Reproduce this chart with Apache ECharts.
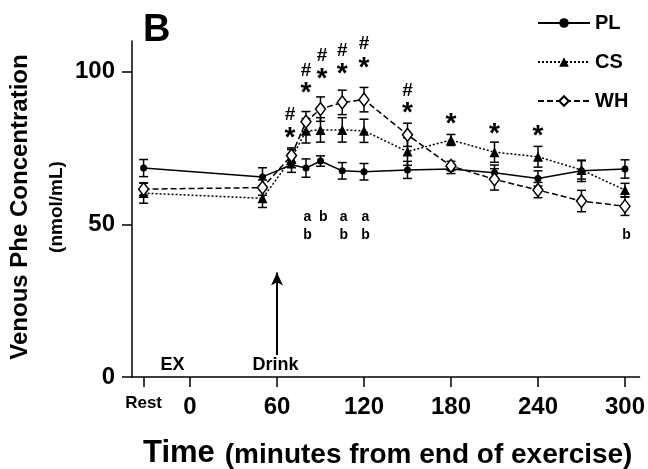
<!DOCTYPE html>
<html><head><meta charset="utf-8">
<script src="https://cdn.jsdelivr.net/npm/echarts@6/dist/echarts.min.js"></script>
<style>html,body{margin:0;padding:0;background:#fff}#c{width:648px;height:469px}</style>
</head><body><div id="c"></div>
<script>
// ---- data ----
const times  = [-32, 50, 70, 80, 90, 105, 120, 150, 180, 210, 240, 270, 300];
const plMean = [68.4, 65.5, 69.5, 68.4, 70.7, 67.5, 67.2, 67.8, 68.1, 66.9, 65.0, 67.5, 68.1];
const plErr  = [2.8, 3.0, 2.5, 3.0, 1.7, 2.7, 2.7, 2.8, 1.5, 2.5, 2.5, 3.5, 3.0];
const csMean = [60.2, 58.5, 71.5, 80.6, 80.9, 80.9, 80.6, 73.8, 77.6, 73.6, 72.1, 67.8, 61.2];
const csErr  = [3.3, 3.0, 3.0, 4.0, 4.0, 4.0, 3.8, 4.5, 1.8, 3.3, 3.4, 3.0, 2.2];
const whMean = [61.5, 62.0, 72.5, 83.6, 87.7, 89.9, 90.8, 79.3, 69.1, 64.7, 61.2, 57.6, 55.9];
const whErr  = [2.0, 2.5, 2.5, 3.3, 4.0, 4.0, 4.0, 3.8, 1.5, 3.5, 2.5, 3.5, 3.0];

const xTickValues = [-32, 0, 60, 120, 180, 240, 300];
const yTickValues = [0, 50, 100];

const hashTimes  = [69, 80, 91, 105, 120, 150];
const hashLevels = [86.0, 100.2, 105.1, 106.7, 109.0, 93.6];
const starTimes  = [69, 80, 91, 105, 120, 150, 180, 210, 240];
const starLevels = [80.5, 95.2, 99.8, 101.5, 103.4, 88.7, 85.0, 81.8, 81.1];
const upperLetters = [[81, 'a'], [92, 'b'], [106, 'a'], [121, 'a']];
const lowerLetters = [[81, 'b'], [106, 'b'], [121, 'b'], [301, 'b']];
const upperLevel = 52.2, lowerLevel = 46.6;
const phaseLabels = [[-12, 3.9, 'EX'], [59, 3.9, 'Drink']];
const drinkArrow = [60, 7.2, 34.2];

// ---- build options ----
const FONT = 'Liberation Sans, Arial, sans-serif';
function pairs(m) { return times.map((t, i) => [t, m[i]]); }
function errData(m, e) { return times.map((t, i) => [t, m[i], e[i]]); }

function errSeries(m, e) {
  return {
    type: 'custom', silent: true, z: 1,
    data: errData(m, e),
    encode: { x: 0, y: 1 },
    renderItem: function (params, api) {
      const t = api.value(0), v = api.value(1), d = api.value(2);
      const hi = api.coord([t, v + d]), lo = api.coord([t, v - d]);
      const w = 4.5;
      const st = { stroke: '#000', lineWidth: 1.5 };
      return { type: 'group', children: [
        { type: 'line', shape: { x1: hi[0], y1: hi[1], x2: lo[0], y2: lo[1] }, style: st },
        { type: 'line', shape: { x1: hi[0] - w, y1: hi[1], x2: hi[0] + w, y2: hi[1] }, style: st },
        { type: 'line', shape: { x1: lo[0] - w, y1: lo[1], x2: lo[0] + w, y2: lo[1] }, style: st }
      ]};
    }
  };
}

function textSeries(data, size, offsetY) {
  return {
    type: 'scatter', silent: true, symbolSize: 0, z: 5,
    data: data,
    itemStyle: { opacity: 1, color: '#000' },
    label: { show: true, position: 'inside', formatter: p => p.data[2], opacity: 1,
      color: '#000', fontFamily: FONT, fontWeight: 'bold', fontSize: size, offset: [0, offsetY] }
  };
}

const annotHash = hashTimes.map((t, i) => [t, hashLevels[i], '#']);
const annotStar = starTimes.map((t, i) => [t, starLevels[i], '*']);
const annotLetters = upperLetters.map(d => [d[0], upperLevel, d[1]])
  .concat(lowerLetters.map(d => [d[0], lowerLevel, d[1]]));

const chart = echarts.init(document.getElementById('c'), null, { renderer: 'canvas' });
chart.setOption({
  animation: false,
  backgroundColor: '#fff',
  grid: { left: 132, right: 8, top: 41, bottom: 92, containLabel: false },
  legend: {
    data: ['PL', 'CS', 'WH'], orient: 'vertical', left: 537, top: 13, padding: 0,
    itemWidth: 52, itemHeight: 12, itemGap: 19, selectedMode: false,
    textStyle: { color: '#000', fontFamily: FONT, fontWeight: 'bold', fontSize: 20, lineHeight: 20 }
  },
  xAxis: {
    type: 'value', min: -40, max: 310,
    axisLine: { onZero: false, lineStyle: { color: '#000', width: 1.5 } },
    axisTick: { customValues: xTickValues, length: 10, lineStyle: { color: '#000', width: 1.5 } },
    axisLabel: { customValues: xTickValues, margin: 18, color: '#000', fontFamily: FONT,
      fontWeight: 'bold', fontSize: 24,
      formatter: v => v === -32 ? '{r|Rest}' : String(v),
      rich: { r: { fontFamily: FONT, fontWeight: 'bold', fontSize: 17, color: '#000' } } },
    splitLine: { show: false }
  },
  yAxis: {
    type: 'value', min: 0, max: 110,
    axisLine: { show: true, onZero: false, lineStyle: { color: '#000', width: 1.5 } },
    axisTick: { show: true, customValues: yTickValues, length: 10, lineStyle: { color: '#000', width: 1.5 } },
    axisLabel: { customValues: yTickValues, margin: 17, color: '#000', fontFamily: FONT,
      fontWeight: 'bold', fontSize: 24 },
    splitLine: { show: false }
  },
  graphic: [
    { type: 'text', left: 143, top: 12, style: { text: 'B', fontFamily: FONT, fontWeight: 'bold', fontSize: 38, fill: '#000' } },
    { type: 'text', x: 20, y: 207, rotation: Math.PI / 2,
      style: { text: 'Venous Phe Concentration', fontFamily: FONT, fontWeight: 'bold', fontSize: 24,
        fill: '#000', align: 'center', verticalAlign: 'middle' } },
    { type: 'text', x: 57, y: 207, rotation: Math.PI / 2,
      style: { text: '(nmol/mL)', fontFamily: FONT, fontWeight: 'bold', fontSize: 19,
        fill: '#000', align: 'center', verticalAlign: 'middle' } },
    { type: 'text', x: 143, y: 469,
      style: { text: '{a|Time}{s| }{b|(minutes from end of exercise)}', fill: '#000', align: 'left', verticalAlign: 'bottom',
        rich: { a: { fontFamily: FONT, fontWeight: 'bold', fontSize: 31, verticalAlign: 'bottom', fill: '#000' },
                s: { fontFamily: FONT, fontWeight: 'bold', fontSize: 31, verticalAlign: 'bottom', width: 10 },
                b: { fontFamily: FONT, fontWeight: 'bold', fontSize: 28, verticalAlign: 'bottom', fill: '#000' } } } }
  ],
  series: [
    errSeries(plMean, plErr), errSeries(csMean, csErr), errSeries(whMean, whErr),
    { name: 'PL', type: 'line', data: pairs(plMean), z: 2, symbol: 'circle', symbolSize: 7,
      itemStyle: { color: '#000' }, lineStyle: { color: '#000', width: 1.5 } },
    { name: 'CS', type: 'line', data: pairs(csMean), z: 3, symbol: 'triangle', symbolSize: 10,
      itemStyle: { color: '#000' }, lineStyle: { color: '#000', width: 1.5, type: [2, 2] } },
    { name: 'WH', type: 'line', data: pairs(whMean), z: 4, symbol: 'diamond', symbolSize: [10, 13],
      itemStyle: { color: '#fff', borderColor: '#000', borderWidth: 1.5 },
      lineStyle: { color: '#000', width: 1.5, type: [6, 3] } },
    textSeries(annotHash, 19, 0),
    textSeries(annotStar, 28, 7),
    textSeries(annotLetters, 14, 0),
    Object.assign(textSeries(phaseLabels.map(d => [d[0], d[1], d[2]]), 18, 0), {
      markLine: { silent: true, symbol: ['none', 'arrow'], symbolSize: [9, 13],
        label: { show: false },
        lineStyle: { color: '#000', width: 2, type: 'solid' },
        data: [[{ coord: [drinkArrow[0], drinkArrow[1]] }, { coord: [drinkArrow[0], drinkArrow[2]] }]] }
    })
  ]
});
</script></body></html>
